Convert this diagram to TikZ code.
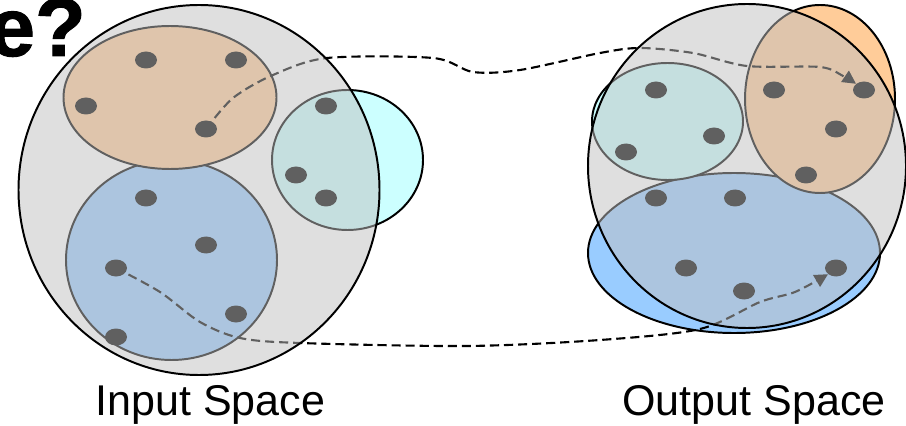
\documentclass[tikz,border=0pt]{standalone}
\usepackage{fontspec}
\setmainfont{Liberation Sans}
\newfontfamily\headingfont[FakeBold=1.2]{Liberation Sans Bold}
\usetikzlibrary{arrows.meta,shapes.geometric}
\definecolor{setorange}{HTML}{FFCC99}
\definecolor{setblue}{HTML}{99CCFF}
\definecolor{setcyan}{HTML}{CCFFFF}
\definecolor{spacegray}{HTML}{C0C0C0}
\begin{document}
\begin{tikzpicture}[x=0.25mm,y=-0.25mm,
  region/.style={draw=black,line width=1.4pt},
  dot/.style={ellipse,fill=black,minimum width=5.5mm,minimum height=4.25mm,inner sep=0pt},
  link/.style={draw=black,line width=1.5pt,dash pattern=on 6.5pt off 3.5pt,
               -{Triangle[length=9.5pt,width=9.5pt]}},
  space/.style={fill=spacegray,fill opacity=0.5,draw=black,line width=1.4pt},
  spacelabel/.style={font=\fontsize{30.6}{36}\selectfont,anchor=base,inner sep=0pt}]
\useasboundingbox (0,0) rectangle (906,426);
\clip (0,0) rectangle (906,426);

% ---- input space: clusters ----
\draw[region,fill=setblue]   (171.5,260) ellipse [x radius=105.5,y radius=100];
\draw[region,fill=setorange] (170,97.5)  ellipse [x radius=106.5,y radius=71.5];
\draw[region,fill=setcyan]   (347.5,160) ellipse [x radius=75.5,y radius=70];

% ---- output space: clusters ----
\draw[region,fill=setblue]   (734,253)   ellipse [x radius=146,y radius=80];
\draw[region,fill=setcyan]   (667.5,121.5) ellipse [x radius=75.5,y radius=58.5];
\draw[region,fill=setorange] (820,99)    ellipse [x radius=75,y radius=94];

% ---- input points ----
\node[dot] (lo1) at (146,60) {};
\node[dot] (lo2) at (236,60) {};
\node[dot] (lo3) at (86,106) {};
\node[dot] (lo4) at (206,129) {};
\node[dot] (lc1) at (326,106) {};
\node[dot] (lc2) at (296,175) {};
\node[dot] (lc3) at (326,198) {};
\node[dot] (lb1) at (146,198) {};
\node[dot] (lb2) at (206,245) {};
\node[dot] (lb3) at (116,268) {};
\node[dot] (lb4) at (236,314) {};
\node[dot] (lb5) at (116,337) {};

% ---- output points ----
\node[dot] (rc1) at (656,90) {};
\node[dot] (rc2) at (714,136) {};
\node[dot] (rc3) at (626,152) {};
\node[dot] (ro1) at (774,90) {};
\node[dot] (ro2) at (864,90) {};
\node[dot] (ro3) at (836,129) {};
\node[dot] (ro4) at (806,175) {};
\node[dot] (rb1) at (656,198) {};
\node[dot] (rb2) at (735,198) {};
\node[dot] (rb3) at (686,268) {};
\node[dot] (rb4) at (836,268) {};
\node[dot] (rb5) at (744,291) {};

% ---- mappings ----
\draw[link] plot[smooth,tension=0.5] coordinates {
  (lo4) (233,98) (273,75) (327,58) (433,58) (473,72) (520,70)
  (600,53) (640,48) (693,53) (747,66) (820,67) (843,76) (ro2.north west)};
\draw[link] plot[smooth,tension=0.5] coordinates {
  (lb3) (160,292) (200,322) (240,338) (300,343) (467,346) (600,340)
  (700,329) (760,302) (795,292) (rb4.south west)};

% ---- the two spaces, laid over everything ----
\draw[space] (199,190) ellipse [x radius=180.5,y radius=185];
\draw[space] (747,166) ellipse [x radius=159,y radius=162];

% ---- text ----
\node[anchor=base east,inner sep=0pt,font=\fontsize{59}{59}\headingfont] (title) at (86,56) {e?};
\node[spacelabel] (inlabel) at (210.5,415) {Input Space};
\node[spacelabel] (outlabel) at (754,415) {Output Space};
\end{tikzpicture}
\end{document}
